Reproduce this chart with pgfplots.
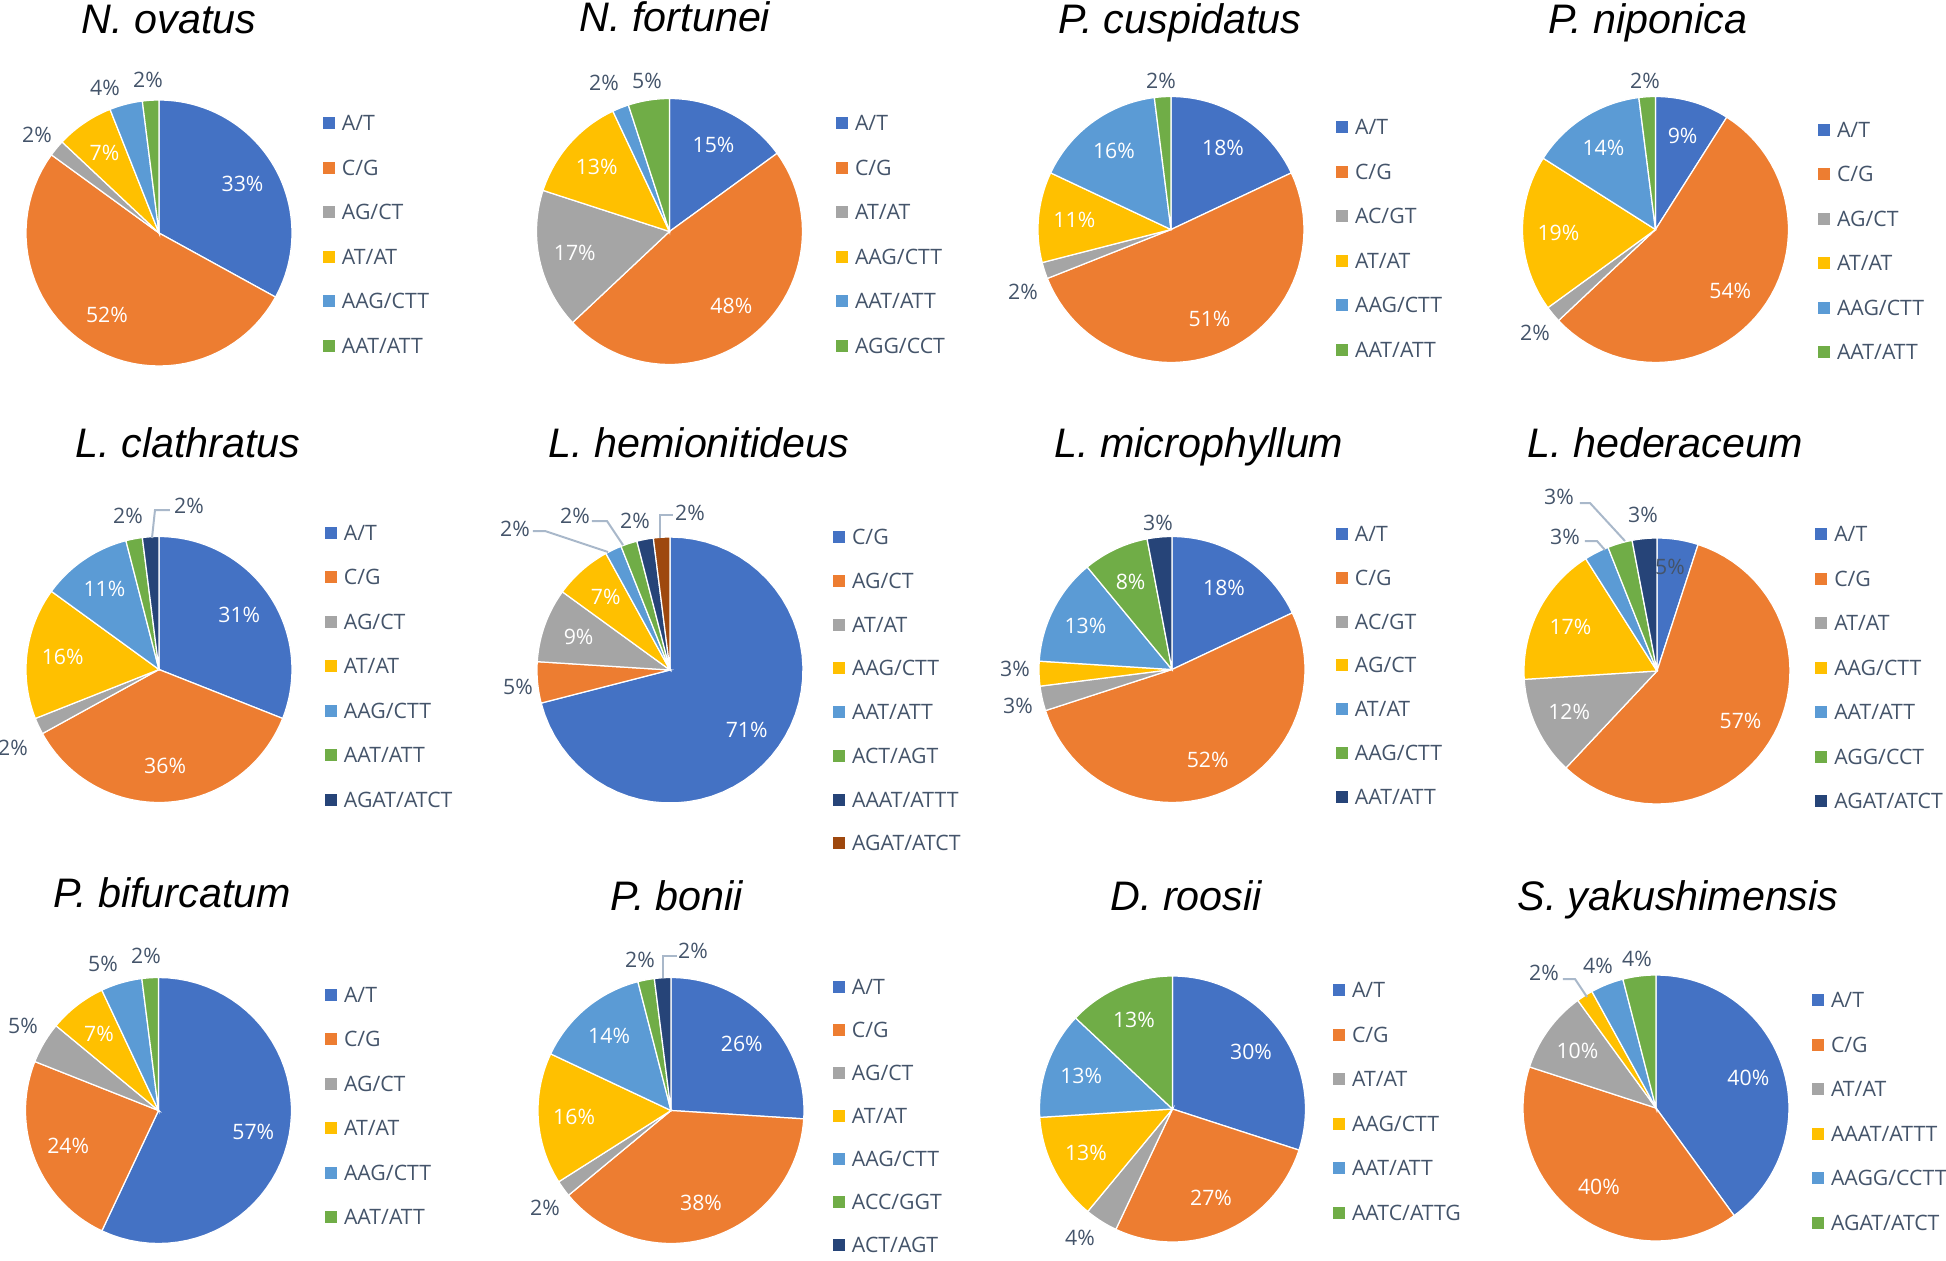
\documentclass[border=0pt]{standalone}
\usepackage{pgfplots}
\pgfplotsset{compat=1.18}
\usepackage{fontspec}
\setmainfont{Open Sans}
\newfontfamily\ttlfont{Liberation Sans}

\definecolor{cB}{HTML}{4472C4}
\definecolor{cO}{HTML}{ED7D31}
\definecolor{cG}{HTML}{A5A5A5}
\definecolor{cY}{HTML}{FFC000}
\definecolor{cL}{HTML}{5B9BD5}
\definecolor{cV}{HTML}{70AD47}
\definecolor{cD}{HTML}{264478}
\definecolor{cR}{HTML}{9E480E}
\definecolor{txt}{HTML}{44546A}
\definecolor{ldc}{HTML}{A9B8CA}

\newcommand\lblfont{\fontsize{8.5}{10}\selectfont}

% one slice: start %, end %, colour, legend text (clockwise from 12 o'clock)
\newcommand\slice[4]{%
  \addplot[fill=#3, draw=white, line width=0.5pt, domain=#1:#2, samples=50, variable=\t]
    ({cos(90-3.6*\t)},{sin(90-3.6*\t)}) -- (axis cs:0,0) -- cycle;
  \addlegendentry{#4}}
% label inside the slice
\newcommand\inlab[3]{\node[ilab] at (axis cs:{0.73*cos(90-1.8*(#1+#2))},{0.73*sin(90-1.8*(#1+#2))}) {#3\%};}
% label outside, offsets in px from the centre (y down)
\newcommand\olab[3]{\node[olab] at (axis cs:{#1/133},{-(#2)/133}) {#3\%};}
\newcommand\ldr[6]{\draw[ldr] (axis cs:{#1/133},{-(#2)/133}) -- (axis cs:{#3/133},{-(#4)/133}) -- (axis cs:{#5/133},{-(#6)/133});}

\tikzset{
  ilab/.style={font=\lblfont, text=white, inner sep=0pt},
  olab/.style={font=\lblfont, text=txt, inner sep=0pt},
  ldr/.style={draw=ldc, line width=0.8pt},
  ttl/.style={font=\ttlfont\itshape\fontsize{16.5}{20}\selectfont, anchor=base, inner sep=0pt},
}

\pgfplotsset{
  pie/.style={
    width=106.4pt, height=106.4pt, scale only axis,
    xmin=-1, xmax=1, ymin=-1, ymax=1,
    hide axis, clip=false, anchor=center,
    legend cell align=left,
    legend style={draw=none, fill=none, anchor=north west, inner sep=0pt, outer sep=0pt,
      font=\lblfont, text=txt, row sep=11.8pt, column sep=2.8pt,
      nodes={inner sep=0pt, text height=6pt, text depth=0pt}},
    legend image code/.code={\fill[##1, draw=none] (0pt,-2.4pt) rectangle (4.8pt,2.4pt);},
  },
}

\begin{document}
\begin{tikzpicture}
\useasboundingbox (0,0) rectangle (778.4pt,-504pt);

% ---------------- row 1 ----------------
\node[ttl] at ({169*0.4pt},{-33*0.4pt}) {N. ovatus};
\begin{axis}[pie, at={({159*0.4pt},{-233*0.4pt})}, legend style={at={(axis cs:1.233,0.883)}}]
\slice{0}{33}{cB}{A/T}
\slice{33}{85}{cO}{C/G}
\slice{85}{87}{cG}{AG/CT}
\slice{87}{94}{cY}{AT/AT}
\slice{94}{98}{cL}{AAG/CTT}
\slice{98}{100}{cV}{AAT/ATT}
\inlab{0}{33}{33}\inlab{33}{85}{52}\inlab{87}{94}{7}
\olab{-122}{-98}{2}\olab{-54}{-145}{4}\olab{-11}{-153}{2}
\end{axis}

\node[ttl] at ({675*0.4pt},{-31*0.4pt}) {N. fortunei};
\begin{axis}[pie, at={({669.5*0.4pt},{-231.5*0.4pt})}, legend style={at={(axis cs:1.252,0.872)}}]
\slice{0}{15}{cB}{A/T}
\slice{15}{63}{cO}{C/G}
\slice{63}{80}{cG}{AT/AT}
\slice{80}{93}{cY}{AAG/CTT}
\slice{93}{95}{cL}{AAT/ATT}
\slice{95}{100}{cV}{AGG/CCT}
\inlab{0}{15}{15}\inlab{15}{63}{48}\inlab{63}{80}{17}\inlab{80}{93}{13}
\olab{-65.5}{-148.5}{2}\olab{-22.5}{-150.5}{5}
\end{axis}

\node[ttl] at ({1180*0.4pt},{-33*0.4pt}) {P. cuspidatus};
\begin{axis}[pie, at={({1171*0.4pt},{-229.5*0.4pt})}, legend style={at={(axis cs:1.241,0.827)}}]
\slice{0}{18}{cB}{A/T}
\slice{18}{69}{cO}{C/G}
\slice{69}{71}{cG}{AC/GT}
\slice{71}{82}{cY}{AT/AT}
\slice{82}{98}{cL}{AAG/CTT}
\slice{98}{100}{cV}{AAT/ATT}
\inlab{0}{18}{18}\inlab{18}{69}{51}\inlab{71}{82}{11}\inlab{82}{98}{16}
\olab{-10}{-148.5}{2}\olab{-148}{62}{2}
\end{axis}

\node[ttl] at ({1648*0.4pt},{-33*0.4pt}) {P. niponica};
\begin{axis}[pie, at={({1655.5*0.4pt},{-229.5*0.4pt})}, legend style={at={(axis cs:1.222,0.805)}}]
\slice{0}{9}{cB}{A/T}
\slice{9}{63}{cO}{C/G}
\slice{63}{65}{cG}{AG/CT}
\slice{65}{84}{cY}{AT/AT}
\slice{84}{98}{cL}{AAG/CTT}
\slice{98}{100}{cV}{AAT/ATT}
\inlab{0}{9}{9}\inlab{9}{63}{54}\inlab{65}{84}{19}\inlab{84}{98}{14}
\olab{-10.5}{-148.5}{2}\olab{-120.5}{103.5}{2}
\end{axis}

% ---------------- row 2 ----------------
\node[ttl] at ({188*0.4pt},{-457*0.4pt}) {L. clathratus};
\begin{axis}[pie, at={({159*0.4pt},{-669.5*0.4pt})}, legend style={at={(axis cs:1.248,1.083)}}]
\slice{0}{31}{cB}{A/T}
\slice{31}{67}{cO}{C/G}
\slice{67}{69}{cG}{AG/CT}
\slice{69}{85}{cY}{AT/AT}
\slice{85}{96}{cL}{AAG/CTT}
\slice{96}{98}{cV}{AAT/ATT}
\slice{98}{100}{cD}{AGAT/ATCT}
\inlab{0}{31}{31}\inlab{31}{67}{36}\inlab{69}{85}{16}\inlab{85}{96}{11}
\olab{-31}{-153.5}{2}\olab{30}{-163.5}{2}\olab{-146}{78.5}{2}
\ldr{11}{-159.5}{-4}{-159.5}{-7}{-131.5}
\end{axis}

\node[ttl] at ({699*0.4pt},{-457*0.4pt}) {L. hemionitideus};
\begin{axis}[pie, at={({670*0.4pt},{-670*0.4pt})}, legend style={at={(axis cs:1.226,1.056)}, row sep=11.5pt}]
\slice{0}{71}{cB}{C/G}
\slice{71}{76}{cO}{AG/CT}
\slice{76}{85}{cG}{AT/AT}
\slice{85}{92}{cY}{AAG/CTT}
\slice{92}{94}{cL}{AAT/ATT}
\slice{94}{96}{cV}{ACT/AGT}
\slice{96}{98}{cD}{AAAT/ATTT}
\slice{98}{100}{cR}{AGAT/ATCT}
\inlab{0}{71}{71}\inlab{76}{85}{9}\inlab{85}{92}{7}
\olab{-152}{17}{5}\olab{-155}{-141}{2}\olab{-95}{-154}{2}\olab{-35}{-149}{2}\olab{20}{-157}{2}
\ldr{-137}{-139}{-125}{-139}{-62}{-118}
\ldr{-78}{-149}{-63}{-149}{-47}{-125}
\ldr{3}{-155}{-10}{-155}{-10}{-132}
\end{axis}

\node[ttl] at ({1199*0.4pt},{-457*0.4pt}) {L. microphyllum};
\begin{axis}[pie, at={({1172*0.4pt},{-669.5*0.4pt})}, legend style={at={(axis cs:1.233,1.075)}, row sep=11.5pt}]
\slice{0}{18}{cB}{A/T}
\slice{18}{70}{cO}{C/G}
\slice{70}{73}{cG}{AC/GT}
\slice{73}{76}{cY}{AG/CT}
\slice{76}{89}{cL}{AT/AT}
\slice{89}{97}{cV}{AAG/CTT}
\slice{97}{100}{cD}{AAT/ATT}
\inlab{0}{18}{18}\inlab{18}{70}{52}\inlab{76}{89}{13}\inlab{89}{97}{8}
\olab{-14}{-146.5}{3}\olab{-157}{-0.5}{3}\olab{-154}{36.5}{3}
\end{axis}

\node[ttl] at ({1665*0.4pt},{-457*0.4pt}) {L. hederaceum};
\begin{axis}[pie, at={({1657*0.4pt},{-671*0.4pt})}, legend style={at={(axis cs:1.190,1.086)}}]
\slice{0}{5}{cB}{A/T}
\slice{5}{62}{cO}{C/G}
\slice{62}{74}{cG}{AT/AT}
\slice{74}{91}{cY}{AAG/CTT}
\slice{91}{94}{cL}{AAT/ATT}
\slice{94}{97}{cV}{AGG/CCT}
\slice{97}{100}{cD}{AGAT/ATCT}
\inlab{5}{62}{57}\inlab{62}{74}{12}\inlab{74}{91}{17}
\olab{13}{-104}{5}\olab{-92}{-134}{3}\olab{-98}{-174}{3}\olab{-14}{-156}{3}
\ldr{-72}{-130}{-60}{-130}{-52}{-121}
\ldr{-77}{-168}{-67}{-168}{-32}{-130}
\end{axis}

% ---------------- row 3 ----------------
\node[ttl] at ({172*0.4pt},{-907*0.4pt}) {P. bifurcatum};
\begin{axis}[pie, at={({158.5*0.4pt},{-1110.5*0.4pt})}, legend style={at={(axis cs:1.252,0.925)}}]
\slice{0}{57}{cB}{A/T}
\slice{57}{81}{cO}{C/G}
\slice{81}{86}{cG}{AG/CT}
\slice{86}{93}{cY}{AT/AT}
\slice{93}{98}{cL}{AAG/CTT}
\slice{98}{100}{cV}{AAT/ATT}
\inlab{0}{57}{57}\inlab{57}{81}{24}\inlab{86}{93}{7}
\olab{-135.5}{-84.5}{5}\olab{-55.5}{-146.5}{5}\olab{-12.5}{-154.5}{2}
\end{axis}

\node[ttl] at ({677*0.4pt},{-910*0.4pt}) {P. bonii};
\begin{axis}[pie, at={({671*0.4pt},{-1110.5*0.4pt})}, legend style={at={(axis cs:1.218,0.985)}, row sep=11.2pt}]
\slice{0}{26}{cB}{A/T}
\slice{26}{64}{cO}{C/G}
\slice{64}{66}{cG}{AG/CT}
\slice{66}{82}{cY}{AT/AT}
\slice{82}{96}{cL}{AAG/CTT}
\slice{96}{98}{cV}{ACC/GGT}
\slice{98}{100}{cD}{ACT/AGT}
\inlab{0}{26}{26}\inlab{26}{64}{38}\inlab{66}{82}{16}\inlab{82}{96}{14}
\olab{-31}{-150.5}{2}\olab{22}{-159.5}{2}\olab{-126}{97.5}{2}
\ldr{6}{-154.5}{-8}{-154.5}{-8}{-132.5}
\end{axis}

\node[ttl] at ({1186*0.4pt},{-910*0.4pt}) {D. roosii};
\begin{axis}[pie, at={({1172.5*0.4pt},{-1109*0.4pt})}, legend style={at={(axis cs:1.207,0.951)}}]
\slice{0}{30}{cB}{A/T}
\slice{30}{57}{cO}{C/G}
\slice{57}{61}{cG}{AT/AT}
\slice{61}{74}{cY}{AAG/CTT}
\slice{74}{87}{cL}{AAT/ATT}
\slice{87}{100}{cV}{AATC/ATTG}
\inlab{0}{30}{30}\inlab{30}{57}{27}\inlab{61}{74}{13}\inlab{74}{87}{13}\inlab{87}{100}{13}
\olab{-92.5}{129}{4}
\end{axis}

\node[ttl] at ({1678*0.4pt},{-910*0.4pt}) {S. yakushimensis};
\begin{axis}[pie, at={({1656*0.4pt},{-1108*0.4pt})}, legend style={at={(axis cs:1.173,0.868)}}]
\slice{0}{40}{cB}{A/T}
\slice{40}{80}{cO}{C/G}
\slice{80}{90}{cG}{AT/AT}
\slice{90}{92}{cY}{AAAT/ATTT}
\slice{92}{96}{cL}{AAGG/CCTT}
\slice{96}{100}{cV}{AGAT/ATCT}
\inlab{0}{40}{40}\inlab{40}{80}{40}\inlab{80}{90}{10}
\olab{-112}{-135}{2}\olab{-58}{-142}{4}\olab{-19}{-149}{4}
\ldr{-93}{-129}{-81}{-129}{-69}{-111}
\end{axis}
\end{tikzpicture}
\end{document}
